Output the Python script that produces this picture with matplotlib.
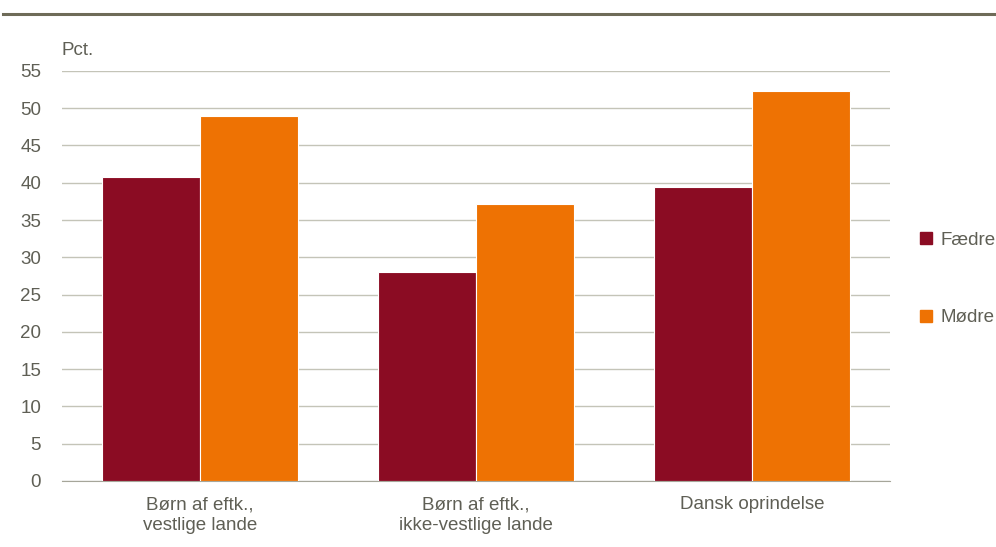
import matplotlib
matplotlib.use("Agg")
import matplotlib.pyplot as plt
from matplotlib.lines import Line2D
import numpy as np

categories = ["Børn af eftk.,\nvestlige lande", "Børn af eftk.,\nikke-vestlige lande", "Dansk oprindelse"]
faedre = [40.8, 28.0, 39.4]
moedre = [49.0, 37.2, 52.3]
series_names = ["Fædre", "Mødre"]
yticks = list(range(0, 56, 5))

plt.rcParams['font.family'] = ['Liberation Sans', 'DejaVu Sans']
txt = '#5f5f55'
grid = '#c4c4b8'
c1 = '#8b0c23'
c2 = '#ee7203'
fs = 13.5

fig = plt.figure(figsize=(9.96, 5.47), dpi=100)
ax = fig.add_axes([0.0622, 0.1207, 0.8314, 0.7496])

x = np.arange(len(categories))
w = 0.355
ax.bar(x - w/2, faedre, w, color=c1, edgecolor='white', linewidth=0.8, zorder=3)
ax.bar(x + w/2, moedre, w, color=c2, edgecolor='white', linewidth=0.8, zorder=3)

ax.set_xlim(-0.5, 2.5)
ax.set_ylim(0, 55)
ax.set_yticks(yticks)
ax.set_xticks(x)
ax.set_xticklabels(categories, linespacing=1.3)
ax.yaxis.grid(True, color=grid, linewidth=1.0, zorder=0)
ax.set_axisbelow(True)
for s in ['left', 'right', 'top']:
    ax.spines[s].set_visible(False)
ax.spines['bottom'].set_color('#a6a69a')
ax.tick_params(axis='both', length=0, labelsize=fs, colors=txt)
ax.tick_params(axis='y', pad=15)
ax.tick_params(axis='x', pad=11)

fig.text(0.0622, 0.908, "Pct.", fontsize=fs, color=txt, ha='left', va='center')

# top rule line
fig.add_artist(Line2D([0.003, 1.0], [1 - 14/547, 1 - 14/547], color='#6e6b58', linewidth=2.2))

handles = [Line2D([], [], marker='s', linestyle='', color=c1, markersize=9),
           Line2D([], [], marker='s', linestyle='', color=c2, markersize=9)]
leg = fig.legend(handles, series_names, loc='center left', bbox_to_anchor=(0.905, 0.49),
                 frameon=False, fontsize=fs, labelspacing=3.2, handlelength=0.8,
                 handletextpad=0.4, labelcolor=txt)

fig.savefig("out.png", dpi=100)
